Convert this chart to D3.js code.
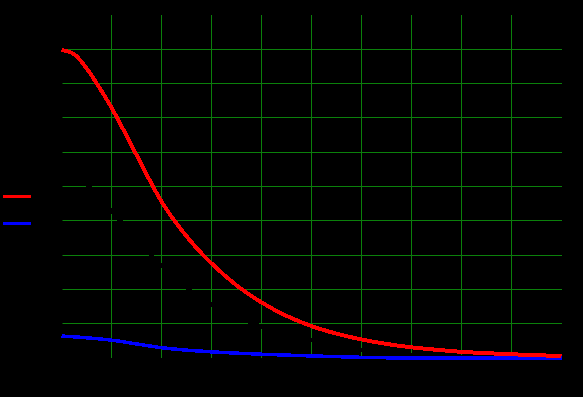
<!DOCTYPE html>
<html lang="en">
<head>
<meta charset="UTF-8">
<title>Curves</title>
<script src="https://d3js.org/d3.v7.min.js"></script>
<style>
  html, body { margin: 0; padding: 0; background: #000; }
  svg { display: block; background: #000; }
  .grid line { stroke: #0b800b; stroke-width: 1px; shape-rendering: crispEdges; }
  .curve { fill: none; shape-rendering: crispEdges; stroke-linejoin: round; }
  text { font-family: "DejaVu Sans", sans-serif; font-size: 11px; fill: #000; }
  .legtext { font-size: 8px; }
</style>
</head>
<body>
<div id="chart"></div>
<script>
// data
const xs      = [0, 0.25, 0.5, 0.75, 1, 1.25, 1.5, 1.75, 2, 2.25, 2.5, 2.75, 3, 3.5, 4, 4.5, 5, 5.5, 6, 6.5, 7, 7.5, 8, 8.5, 9, 9.5, 10];
const redVals = [8.98, 8.86, 8.45, 7.9, 7.3, 6.62, 5.92, 5.22, 4.56, 4.02, 3.55, 3.13, 2.76, 2.12, 1.62, 1.23, 0.93, 0.71, 0.54, 0.41, 0.31, 0.24, 0.18, 0.14, 0.11, 0.08, 0.06];
const blueX    = [0, 0.5, 1, 1.5, 2, 2.5, 3, 4, 5, 6, 7, 8, 9, 10];
const blueVals = [0.64, 0.59, 0.52, 0.41, 0.3, 0.23, 0.18, 0.11, 0.06, 0.02, 0, 0, 0, 0];
const blackX    = [0, 0.5, 1, 1.5, 2, 2.5, 3, 3.5, 4, 5, 6, 7, 8, 9, 10];
const blackVals = [5.8, 5.08, 4.3, 3.45, 2.7, 2.05, 1.56, 1.2, 0.92, 0.52, 0.22, 0.08, 0.03, 0.01, 0];
const xTicks = [0, 1, 2, 3, 4, 5, 6, 7, 8, 9, 10];
const yTicks = [0, 1, 2, 3, 4, 5, 6, 7, 8, 9, 10];
const seriesNames = ["red", "blue", "black"];

const W = 583, H = 397;
const x = d3.scaleLinear().domain([0, 10]).range([61.5, 561.5]);
const y = d3.scaleLinear().domain([0, 10]).range([358, 15]);

const svg = d3.select("#chart").append("svg")
    .attr("width", W)
    .attr("height", H);

// grid (inner lines only)
const grid = svg.append("g").attr("class", "grid");
grid.selectAll(".vx")
    .data(xTicks.slice(1, -1))
  .enter().append("line")
    .attr("x1", d => Math.floor(x(d)) + 0.5)
    .attr("x2", d => Math.floor(x(d)) + 0.5)
    .attr("y1", y(10))
    .attr("y2", y(0));
grid.selectAll(".hy")
    .data(yTicks.slice(1, -1))
  .enter().append("line")
    .attr("x1", x(0))
    .attr("x2", x(10))
    .attr("y1", d => Math.floor(y(d)) + 0.5)
    .attr("y2", d => Math.floor(y(d)) + 0.5);

// axes, all drawn in black like the original
svg.append("g")
    .attr("transform", "translate(0," + y(0) + ")")
    .call(d3.axisBottom(x).tickValues(xTicks));
svg.append("g")
    .attr("transform", "translate(" + x(0) + ",0)")
    .call(d3.axisLeft(y).tickValues(yTicks));
svg.selectAll(".domain, .tick line").attr("stroke", "#000");
svg.selectAll(".tick text").attr("fill", "#000");

const line = d3.line()
    .x(d => x(d[0]))
    .y(d => y(d[1]))
    .curve(d3.curveMonotoneX);

svg.append("path")
    .datum(blackX.map((v, i) => [v, blackVals[i]]))
    .attr("class", "curve")
    .attr("stroke", "#000")
    .attr("stroke-width", 4)
    .attr("d", line);

svg.append("path")
    .datum(blueX.map((v, i) => [v, blueVals[i]]))
    .attr("class", "curve")
    .attr("stroke", "#0000ff")
    .attr("stroke-width", 3.5)
    .attr("d", line);

svg.append("path")
    .datum(xs.map((v, i) => [v, redVals[i]]))
    .attr("class", "curve")
    .attr("stroke", "#ff0000")
    .attr("stroke-width", 4)
    .attr("d", line);

// legend on the left
const legendColors = ["#ff0000", "#0000ff", "#000"];
const leg = svg.selectAll(".leg")
    .data(seriesNames)
  .enter().append("g")
    .attr("transform", (d, i) => "translate(3," + (196 + i * 27) + ")");
leg.append("line")
    .attr("x1", 0).attr("x2", 28)
    .attr("stroke", (d, i) => legendColors[i])
    .attr("stroke-width", 3)
    .style("shape-rendering", "crispEdges");
leg.append("text")
    .attr("class", "legtext")
    .attr("x", 0).attr("y", -5)
    .text(d => d);
</script>
</body>
</html>
